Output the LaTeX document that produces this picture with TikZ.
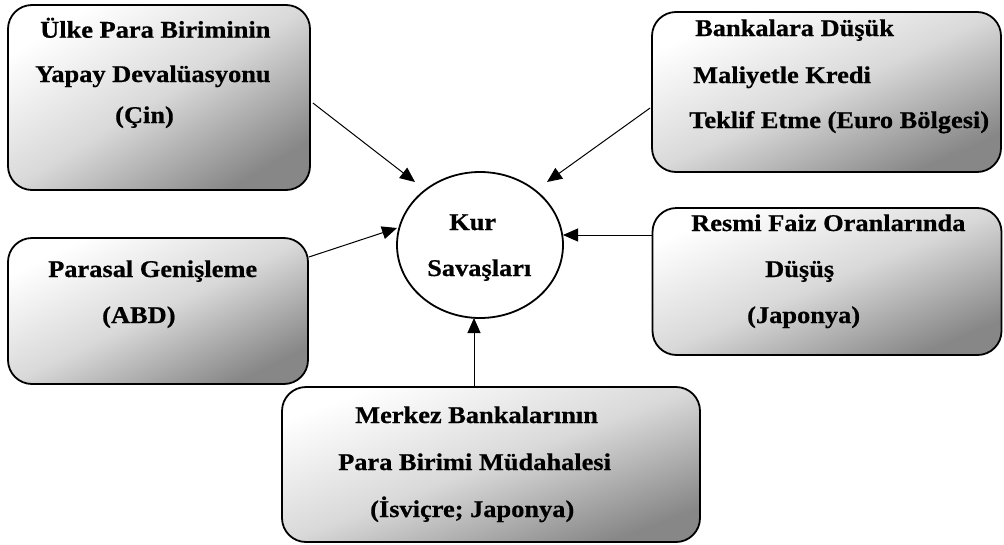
\documentclass[tikz,border=0pt]{standalone}
\usepackage{fontspec}
\setmainfont[FakeStretch=1.1,BoldFeatures={FakeBold=0.6}]{Liberation Serif}
\usetikzlibrary{shapes.geometric,arrows.meta,calc}
\pgfdeclareverticalshading{boxshade}{100bp}{color(0bp)=(black!47); color(25bp)=(black!47); color(50bp)=(black!15); color(75bp)=(white); color(100bp)=(white)}
\begin{document}
\begin{tikzpicture}[x=1pt,y=-1pt,
  box/.style={draw=black, line width=1.8pt, rounded corners=24pt,
    shade, shading=boxshade, shading angle=#1, inner sep=0pt},
  txt/.style={anchor=base west, inner sep=0pt, font=\bfseries\fontsize{24}{27}\selectfont},
  conn/.style={line width=1pt, -{Triangle[length=15pt,width=13pt]}}]
\useasboundingbox (0,0) rectangle (1004,544);
% boxes
\node[box=31.5, minimum width=302pt, minimum height=185pt] (b1) at (159,97.5) {};
\node[box=24.6, minimum width=349pt, minimum height=160pt] (b2) at (826.5,92) {};
\node[box=26, minimum width=300pt, minimum height=146pt] (b4) at (158,311) {};
\node[box=23, minimum width=349pt, minimum height=147pt] (b5) at (827,281.5) {};
\node[box=20.4, minimum width=418pt, minimum height=155pt] (b3) at (491,464.5) {};
\node[ellipse, draw=black, line width=1.8pt, fill=white, minimum width=166pt, minimum height=146pt, inner sep=0pt] (kur) at (480,245) {};
% texts
\node[txt] (t11) at (40,37.7) {Ülke Para Biriminin};
\node[txt] (t12) at (35,82) {Yapay Devalüasyonu};
\node[txt] (t13) at (115,123) {(Çin)};
\node[txt] (t21) at (695,36) {Bankalara Düşük};
\node[txt] (t22) at (693,83) {Maliyetle Kredi};
\node[txt] (t23) at (689,128) {Teklif Etme (Euro Bölgesi)};
\node[txt] (t41) at (48,277) {Parasal Genişleme};
\node[txt] (t42) at (102,323) {(ABD)};
\node[txt] (t51) at (691,231) {Resmi Faiz Oranlarında};
\node[txt] (t52) at (765,277) {Düşüş};
\node[txt] (t53) at (747,323) {(Japonya)};
\node[txt] (t31) at (355,423) {Merkez Bankalarının};
\node[txt] (t32) at (338,470) {Para Birimi Müdahalesi};
\node[txt] (t33) at (370,517) {(İsviçre; Japonya)};
\node[txt] (k1) at (449,230) {Kur};
\node[txt] (k2) at (427,276) {Savaşları};
% connectors
\draw[conn] ($(b1.east)+(2,5.5)$) -- ($(kur.center)+(-65,-63)$);
\draw[conn] ($(b2.west)+(-1,16)$) -- ($(kur.center)+(67,-63)$);
\draw[conn] ($(b4.east)+(0,-54)$) -- ($(kur.center)+(-83,-17)$);
\draw[conn] ($(b5.west)+(0,-46.5)$) -- ($(kur.center)+(83,-10)$);
\draw[conn] ($(b3.north)+(-17,0)$) -- ($(kur.center)+(-6,73)$);
\end{tikzpicture}
\end{document}
